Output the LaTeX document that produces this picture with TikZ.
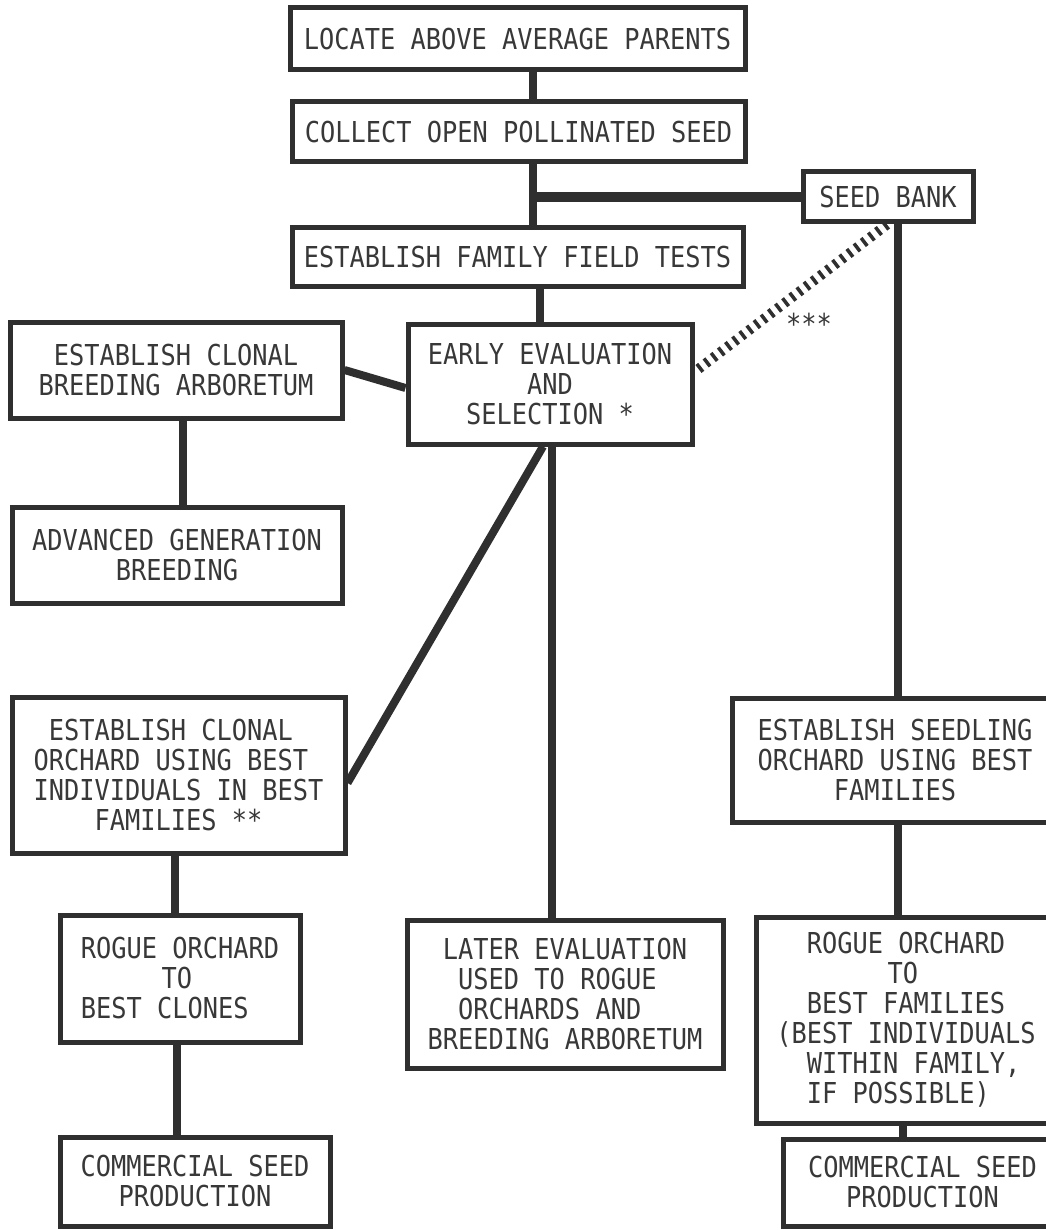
\documentclass[tikz,border=0pt]{standalone}
\usepackage{fontspec}
\newfontfamily\tw[FakeStretch=0.88]{DejaVu Sans Mono}
\usetikzlibrary{backgrounds}
\definecolor{ink}{HTML}{2F2F2F}
\definecolor{txt}{HTML}{383838}
\newcommand{\ind}[1]{\hspace*{#1\fontcharwd\font`M}}
\newcommand{\bx}[7][center]{%
  \node[box, align=#1, minimum width={#5-#3}, minimum height={#6-#4}] (#2) at ({(#3+#5)/2},{(#4+#6)/2}) {#7};}
\begin{document}
\begin{tikzpicture}[x=1pt,y=-1pt,
  box/.style={draw=ink, line width=5pt, fill=white, text=txt, inner sep=0pt,
    font=\tw\fontsize{28.8}{30}\selectfont},
  link/.style={draw=ink, line width=8pt},
  dotlink/.style={draw=ink, line width=10pt, dash pattern=on 3.5pt off 5.5pt},
  note/.style={text=txt, inner sep=0pt, font=\tw\fontsize{28.8}{30}\selectfont}]
\useasboundingbox (0,0) rectangle (1045,1230);

\bx{b1}{290}{8}{745}{70}{LOCATE ABOVE AVERAGE PARENTS}
\bx{b2}{292}{102}{745}{162}{COLLECT OPEN POLLINATED SEED}
\bx{b3}{292}{228}{743}{287}{ESTABLISH FAMILY FIELD TESTS}
\bx{sb}{803}{172}{973}{222}{SEED BANK}
\bx{ee}{408}{324}{692}{444}{EARLY EVALUATION\\AND\\SELECTION *}
\bx{ca}{10}{322}{342}{418}{ESTABLISH CLONAL\\BREEDING ARBORETUM}
\bx{adv}{12}{507}{342}{603}{ADVANCED GENERATION\\BREEDING}
\bx[left]{co}{12}{697}{345}{853}{\ind{1}ESTABLISH CLONAL\\ORCHARD USING BEST\\INDIVIDUALS IN BEST\\\ind{4}FAMILIES **}
\bx[left]{rc}{60}{915}{300}{1042}{ROGUE ORCHARD\\\ind{5.3}TO\\BEST CLONES}
\bx{cl}{60}{1137}{330}{1226}{COMMERCIAL SEED\\PRODUCTION}
\bx[left]{le}{407}{920}{723}{1068}{\ind{1}LATER EVALUATION\\\ind{2}USED TO ROGUE\\\ind{2}ORCHARDS AND\\BREEDING ARBORETUM}
\bx{so}{732}{698}{1058}{822}{ESTABLISH SEEDLING\\ORCHARD USING BEST\\FAMILIES}
\bx[left]{rf}{756}{917}{1056}{1123}{\ind{2}ROGUE ORCHARD\\\ind{7.3}TO\\\ind{2}BEST FAMILIES\\(BEST INDIVIDUALS\\\ind{2}WITHIN FAMILY,\\\ind{2}IF POSSIBLE)}
\bx{cr}{783}{1139}{1062}{1226}{COMMERCIAL SEED\\PRODUCTION}

\node[note, anchor=base] (ast) at (809,334) {***};

\begin{pgfonlayer}{background}
\fill[white] (0,0) rectangle (1045,1230);
\coordinate (j1) at (533,197);
\draw[link] ([xshift=15.5]b1.south) -- ([xshift=14.5]b2.north);
\draw[link] ([xshift=14.5]b2.south) -- ([xshift=15.5]b3.north);
\draw[link, line width=10pt] (j1) -- (sb.west);
\draw[link] ([xshift=22.5]b3.south) -- ([xshift=-10]ee.north);
\draw[link] ([xshift=2]ee.south) -- ([xshift=-13]le.north);
\draw[link] ([xshift=-7]ee.south) -- ([yshift=-8]co.east);
\draw[link] (ca.east) -- ([yshift=-4]ee.west);
\draw[link] ([xshift=7]ca.south) -- ([xshift=6]adv.north);
\draw[link] ([xshift=-3.5]co.south) -- ([xshift=-5]rc.north);
\draw[link] ([xshift=-3]rc.south) -- ([xshift=-18]cl.north);
\draw[link] ([xshift=10]sb.south) -- ([xshift=3]so.north);
\draw[link] ([xshift=3]so.south) -- ([xshift=-8]rf.north);
\draw[link] ([xshift=-3]rf.south) -- ([xshift=-19.5]cr.north);
\draw[dotlink] ([xshift=-1]sb.south) -- ([yshift=12]ee.east);
\end{pgfonlayer}
\end{tikzpicture}
\end{document}
